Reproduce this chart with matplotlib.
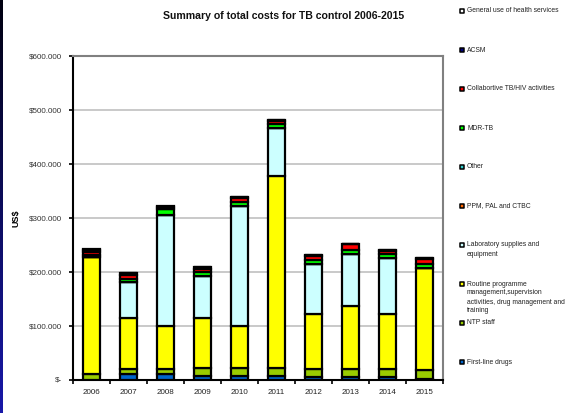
import numpy as np
import matplotlib.pyplot as plt
from matplotlib.ticker import FuncFormatter

plt.rcParams['font.family'] = ['Liberation Sans', 'DejaVu Sans']

years = ['2006', '2007', '2008', '2009', '2010', '2011', '2012', '2013', '2014', '2015']

# costs in thousand US$, stacked bottom -> top
first_line_drugs = [0, 10, 10, 6, 6, 6, 5, 5, 5, 1]
ntp_staff = [10, 10, 10, 16, 16, 16, 14, 14, 14, 17]
routine_mgmt = [218, 94, 80, 92, 78, 355, 103, 117, 103, 188]
lab_supplies = [0, 66, 206, 78, 221, 89, 92, 97, 103, 0]
ppm_pal_ctbc = [0, 0, 0, 0, 0, 0, 0, 0, 0, 0]
other = [0, 0, 0, 0, 0, 0, 0, 0, 0, 0]
mdr_tb = [2, 7, 10, 7, 8, 7, 8, 7, 7, 8]
collab_tb_hiv = [7, 7, 0, 6, 7, 7, 7, 11, 7, 10]
acsm = [3, 3, 4, 3, 3, 2, 1, 1, 2, 2]
general_use = [2, 0, 2, 0, 0, 0, 0, 0, 0, 0]

series = [
    ('First-line drugs', first_line_drugs, '#0066CC'),
    ('NTP staff', ntp_staff, '#99CC00'),
    ('Routine programme\nmanagement,supervision\nactivities, drug management and\ntraining',
     routine_mgmt, '#FFFF00'),
    ('Laboratory supplies and\nequipment', lab_supplies, '#CCFFFF'),
    ('PPM, PAL and CTBC', ppm_pal_ctbc, '#FF6600'),
    ('Other', other, '#33CCCC'),
    ('MDR-TB', mdr_tb, '#00FF00'),
    ('Collabortive TB/HIV activities', collab_tb_hiv, '#FF0000'),
    ('ACSM', acsm, '#000080'),
    ('General use of health services', general_use, '#FFFFFF'),
]

W, H = 565, 413
fig = plt.figure(figsize=(W / 100, H / 100), dpi=100)

# dark stripe on the left edge
sax = fig.add_axes([0, 0, 3 / W, 1])
grad = np.linspace(0, 1, 100).reshape(-1, 1)
sax.imshow(grad, aspect='auto', cmap=plt.matplotlib.colors.LinearSegmentedColormap.from_list(
    'strip', ['#000010', '#1818A8']))
sax.axis('off')

ax = fig.add_axes([73 / W, 1 - 379.5 / H, 370 / W, 323.5 / H])
x = np.arange(len(years))
bottom = np.zeros(len(years))
for name, vals, col in series:
    v = np.array(vals, dtype=float) * 1000
    ax.bar(x, v, 0.46, bottom=bottom, color=col, edgecolor='black', linewidth=1.6, zorder=3)
    bottom += v

ax.set_xlim(-0.5, len(years) - 0.5)
ax.set_ylim(0, 600000)
ax.set_yticks(np.arange(0, 600001, 100000))
ax.yaxis.set_major_formatter(FuncFormatter(
    lambda v, p: '$-' if v == 0 else '${:,.0f}'.format(v).replace(',', '.')))
ax.set_xticks(x)
ax.set_xticklabels(years)
ax.set_xticks(np.arange(-0.5, len(years)), minor=True)
ax.tick_params(axis='x', which='major', length=0, labelsize=5.8, colors='#222222', pad=7)
ax.tick_params(axis='x', which='minor', length=3, width=1.2, direction='out')
ax.tick_params(axis='y', length=3, width=1.2, labelsize=5.8, labelcolor='#333333', pad=5)
ax.grid(axis='y', color='#C0C0C0', linewidth=1.2, zorder=0)
ax.set_axisbelow(True)
for s in ['top', 'right']:
    ax.spines[s].set_color('#808080')
    ax.spines[s].set_linewidth(1.5)
for s in ['left', 'bottom']:
    ax.spines[s].set_color('black')
    ax.spines[s].set_linewidth(1.5)
ax.set_ylabel('US$', fontsize=6.5, fontweight='bold', labelpad=6)

fig.text(284 / W, 1 - 16 / H, 'Summary of total costs for TB control 2006-2015',
         ha='center', va='center', fontsize=7.6, fontweight='bold', color='#111111')

# legend panel on the right, in pixel coordinates
lax = fig.add_axes([0, 0, 1, 1], facecolor='none')
lax.set_xlim(0, W)
lax.set_ylim(H, 0)
lax.axis('off')
for i, (name, vals, col) in enumerate(reversed(series)):
    yy = 11 + i * 39
    lax.scatter([462], [yy], marker='s', s=11, c=col, edgecolors='black', linewidths=1.1)
    lax.text(467, yy - 3.5, name, fontsize=4.85, color='#222222', va='top', ha='left',
             linespacing=1.4)

fig.savefig('out.png', dpi=100)
